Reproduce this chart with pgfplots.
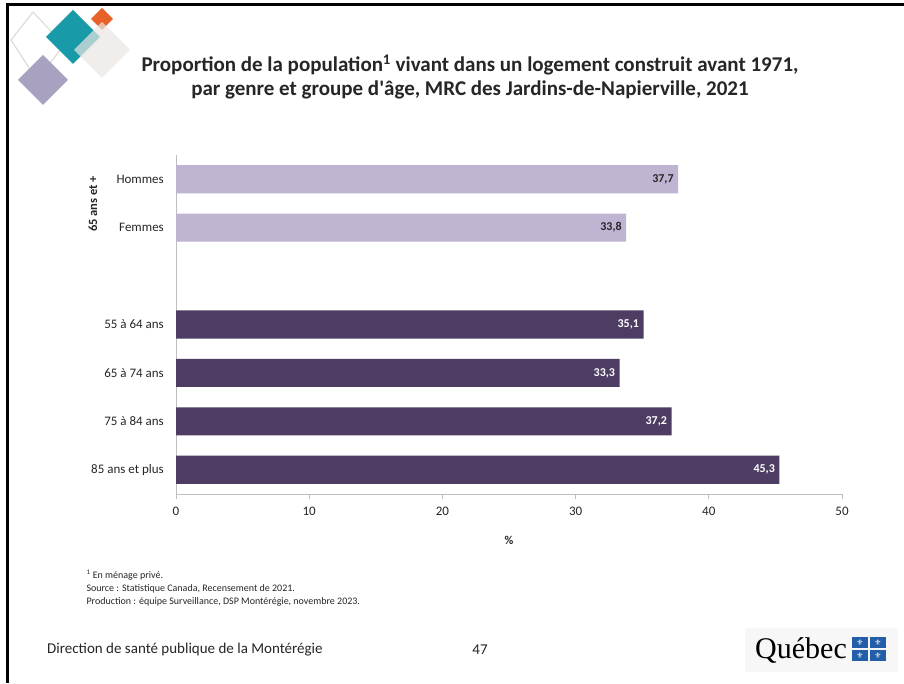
\documentclass[border=0pt]{standalone}
\usepackage{pgfplots}
\pgfplotsset{compat=1.18}
\usepackage{fontspec}
\setmainfont{Carlito}
\newfontfamily\qfont{Liberation Serif}
\newfontfamily\dejavu{DejaVu Sans}
\definecolor{lightbar}{RGB}{192,180,211}
\definecolor{darkbar}{RGB}{77,61,99}
\definecolor{txt}{RGB}{38,38,38}
\definecolor{axisgray}{RGB}{191,191,191}
\definecolor{teal1}{RGB}{24,154,168}
\definecolor{orange1}{RGB}{232,96,42}
\definecolor{purple1}{RGB}{169,161,192}
\definecolor{outl}{RGB}{214,219,206}
\definecolor{lgray}{RGB}{234,230,227}
\definecolor{qblue}{RGB}{36,93,168}
\begin{document}
\begin{tikzpicture}[x=1pt,y=1pt]
\useasboundingbox (0,0) rectangle (904,683);
\fill[white] (0,0) rectangle (904,683);
% slide borders
\fill[black] (6,0) rectangle (9,680);
\fill[black] (6,677) rectangle (904,680);
% decorative diamonds
\draw[outl, line width=1pt] (33,671) -- (64,638) -- (37,603) -- (11,643) -- cycle;
\fill[purple1] (43,628) -- (68,603) -- (43,578) -- (18,603) -- cycle;
\fill[orange1] (102,675) -- (113,664) -- (102,653) -- (91,664) -- cycle;
\fill[teal1] (73,673) -- (100,646) -- (73,619) -- (46,646) -- cycle;
\fill[lgray, opacity=0.7] (102,661) -- (130,633) -- (102,605) -- (74,633) -- cycle;
% title
\node[align=center, font=\fontsize{21}{24}\selectfont\bfseries, text=txt] at (470,606)
 {Proportion de la population\textsuperscript{1} vivant dans un logement construit avant 1971,\\par genre et groupe d\textquotesingle âge, MRC des Jardins-de-Napierville, 2021};
% chart
\begin{axis}[
  at={(176pt,189pt)}, anchor=south west, scale only axis,
  width=666pt, height=339pt,
  xmin=0, xmax=50, ymin=-0.5, ymax=6.5,
  xbar, bar width=0.58, bar shift=0pt,
  axis x line*=bottom, axis y line*=left,
  axis line style={draw=axisgray, line width=1pt, -},
  xtick={0,10,...,50}, xtick align=outside, major tick length=5pt,
  xtick style={draw=axisgray, line width=0.8pt},
  ytick={0,1,2,3,5,6},
  yticklabels={85 ans et plus,75 à 84 ans,65 à 74 ans,55 à 64 ans,Femmes,Hommes},
  ytick style={draw=none},
  tick label style={font=\fontsize{13}{14}\selectfont, text=txt},
  yticklabel style={inner sep=0pt, xshift=-7pt},
  xticklabel style={yshift=-5pt},
  /pgf/number format/assume math mode=true,
  every axis x label/.style={at={(axis description cs:0.5,0)}, anchor=center, yshift=-46pt},
  xlabel={\%},
  xlabel style={font=\fontsize{12}{14}\selectfont\bfseries, text=txt},
  clip=false,
]
\addplot[fill=darkbar, draw=none,
  nodes near coords={\pgfmathprintnumber[use comma,fixed,fixed zerofill,precision=1]{\pgfplotspointmeta}},
  every node near coord/.append style={anchor=east, text=white, font=\fontsize{12}{13}\selectfont\bfseries, xshift=-1pt}]
  coordinates {(45.3,0) (37.2,1) (33.3,2) (35.1,3)};
\addplot[fill=lightbar, draw=none,
  nodes near coords={\pgfmathprintnumber[use comma,fixed,fixed zerofill,precision=1]{\pgfplotspointmeta}},
  every node near coord/.append style={anchor=east, text=txt, font=\fontsize{12}{13}\selectfont\bfseries, xshift=-1pt}]
  coordinates {(33.8,5) (37.7,6)};
\end{axis}
\node[rotate=90, font=\fontsize{12.5}{14}\selectfont\bfseries, text=txt] at (93,479) {65 ans et +};
% footnotes
\node[anchor=west, align=left, font=\fontsize{10}{13}\selectfont, text=txt] at (83,95)
 {\textsuperscript{1} En ménage privé.\\Source : Statistique Canada, Recensement de 2021.\\Production : équipe Surveillance, DSP Montérégie, novembre 2023.};
% footer
\node[anchor=west, inner sep=0pt, font=\fontsize{15}{16}\selectfont, text=txt] at (47,33) {Direction de santé publique de la Montérégie};
\node[font=\fontsize{15}{16}\selectfont, text=txt] at (480,33) {47};
% Quebec logo
\fill[black!3] (745,11) rectangle (898,55);
\node[anchor=west, inner sep=0pt, font=\qfont\fontsize{30}{32}\selectfont, text=black] at (755,33) {Québec};
\foreach \xx in {852,870}{
  \foreach \yy in {22,35}{
    \fill[qblue] (\xx,\yy) rectangle (\xx+16,\yy+11);
    \node[text=white, inner sep=0pt, font=\dejavu\fontsize{8}{8}\selectfont] at (\xx+8,\yy+5.5) {⚜};
  }
}
\end{tikzpicture}
\end{document}
